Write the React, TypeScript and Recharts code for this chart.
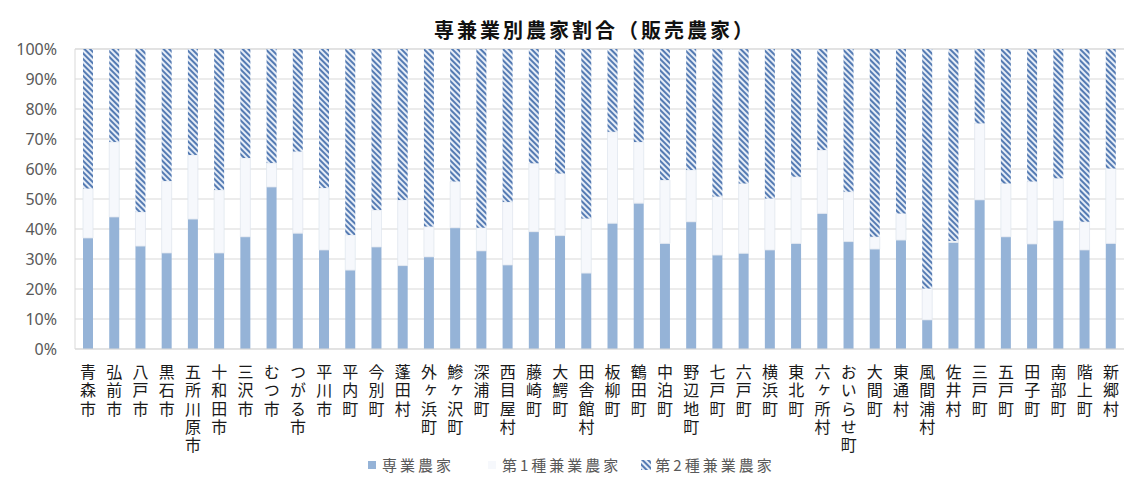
import React from "react";
import { BarChart, Bar, XAxis, YAxis, CartesianGrid } from "recharts";

const MUNICIPALITIES = [
  "青森市", "弘前市", "八戸市", "黒石市", "五所川原市", "十和田市", "三沢市", "むつ市",
  "つがる市", "平川市", "平内町", "今別町", "蓬田村", "外ヶ浜町", "鰺ヶ沢町", "深浦町",
  "西目屋村", "藤崎町", "大鰐町", "田舎館村", "板柳町", "鶴田町", "中泊町", "野辺地町",
  "七戸町", "六戸町", "横浜町", "東北町", "六ヶ所村", "おいらせ町", "大間町", "東通村",
  "風間浦村", "佐井村", "三戸町", "五戸町", "田子町", "南部町", "階上町", "新郷村",
];

// 専業農家 (%)
const SENGYO = [
  37, 44, 34.3, 32, 43.3, 32, 37.4, 54, 38.6, 33, 26.3, 34, 27.8, 30.7, 40.4, 32.7,
  28, 39.1, 37.8, 25.3, 41.9, 48.6, 35.2, 42.4, 31.3, 31.9, 33, 35.2, 45.2, 35.8, 33.3, 36.3,
  9.7, 35.5, 49.7, 37.4, 35, 42.8, 33, 35.2,
];

// 第1種兼業農家 (%)
const KENGYO1 = [
  16.5, 25, 11.4, 24, 21.4, 21, 26.3, 8, 27.2, 20.7, 11.7, 12.3, 21.9, 10.1, 15.4, 7.7,
  21, 22.8, 20.7, 18.2, 30.5, 20.4, 21.1, 17.3, 19.5, 23.3, 17.2, 22.2, 21.1, 16.6, 4.1, 8.9,
  10.5, 0.5, 25.5, 17.8, 20.8, 14.1, 9.4, 25,
];

// 第2種兼業農家 (%)
const KENGYO2 = [
  46.5, 31, 54.3, 44, 35.3, 47, 36.3, 38, 34.2, 46.3, 62, 53.7, 50.3, 59.2, 44.2, 59.6,
  51, 38.1, 41.5, 56.5, 27.6, 31, 43.7, 40.3, 49.2, 44.8, 49.8, 42.6, 33.7, 47.6, 62.6, 54.8,
  79.8, 64, 24.8, 44.8, 44.2, 43.1, 57.6, 39.8,
];

const Y_TICKS = [0, 10, 20, 30, 40, 50, 60, 70, 80, 90, 100];

const data = MUNICIPALITIES.map((name, i) => ({
  name,
  sengyo: SENGYO[i],
  kengyo1: KENGYO1[i],
  kengyo2: KENGYO2[i],
}));

const JP_FONT = "'Noto Sans CJK JP', 'Noto Sans', sans-serif";

// municipality names are written top-to-bottom
const VerticalTick = (props: any) => {
  const { x, y, payload } = props;
  return (
    <text
      x={x}
      y={y + 15}
      fontSize={16}
      fill="#1a1a1a"
      fontFamily={JP_FONT}
      letterSpacing={2.3}
      style={{ writingMode: "vertical-rl" }}
    >
      {payload.value}
    </text>
  );
};

export default function App() {
  return (
    <div style={{ position: "absolute", left: 0, top: 0, width: 1124, height: 478, background: "#fff", fontFamily: JP_FONT }}>
      <svg width={0} height={0} style={{ position: "absolute" }}>
        <defs>
          <pattern id="hatch" patternUnits="userSpaceOnUse" width={4} height={4} patternTransform="rotate(-45)">
            <rect width={4} height={4} fill="#e6edf7" />
            <rect width={2} height={4} fill="#557bb3" />
          </pattern>
        </defs>
      </svg>

      <div
        style={{
          position: "absolute",
          top: 15,
          left: 0,
          width: 1190,
          textAlign: "center",
          fontSize: 20,
          fontWeight: "bold",
          letterSpacing: 3,
          color: "#111",
        }}
      >
        専兼業別農家割合（販売農家）
      </div>

      <BarChart
        width={1124}
        height={478}
        data={data}
        margin={{ top: 49, right: 0, bottom: 0, left: 0 }}
        barSize={10}
      >
        <CartesianGrid vertical={false} stroke="#d9d9d9" />
        <XAxis
          dataKey="name"
          interval={0}
          height={129}
          tickLine={false}
          tickSize={0}
          tickMargin={0}
          axisLine={{ stroke: "#d9d9d9" }}
          tick={<VerticalTick />}
        />
        <YAxis
          width={75}
          domain={[0, 100]}
          ticks={Y_TICKS}
          tickFormatter={(v: number) => `${v}%`}
          axisLine={{ stroke: "#d9d9d9" }}
          tickLine={false}
          tickSize={0}
          tickMargin={18}
          tick={{ fill: "#595959", fontSize: 16, fontFamily: "'Noto Sans', sans-serif" }}
        />
        <Bar dataKey="sengyo" stackId="a" fill="#95b3d7" isAnimationActive={false} />
        <Bar dataKey="kengyo1" stackId="a" fill="#f6f8fc" stroke="#dfe5ee" strokeWidth={0.75} isAnimationActive={false} />
        <Bar dataKey="kengyo2" stackId="a" fill="url(#hatch)" isAnimationActive={false} />
      </BarChart>

      <div
        style={{
          position: "absolute",
          top: 454,
          left: 368,
          display: "flex",
          alignItems: "center",
          fontSize: 15,
          letterSpacing: 3,
          color: "#595959",
          whiteSpace: "nowrap",
        }}
      >
        <span style={{ width: 8, height: 8, background: "#95b3d7", marginRight: 6 }} />
        <span style={{ marginRight: 34 }}>専業農家</span>
        <span style={{ width: 8, height: 8, background: "#f6f8fc", marginRight: 6 }} />
        <span style={{ marginRight: 20 }}>第1種兼業農家</span>
        <svg width={10} height={10} style={{ marginRight: 4 }}>
          <rect width={10} height={10} fill="url(#hatch)" />
        </svg>
        <span>第2種兼業農家</span>
      </div>
    </div>
  );
}
